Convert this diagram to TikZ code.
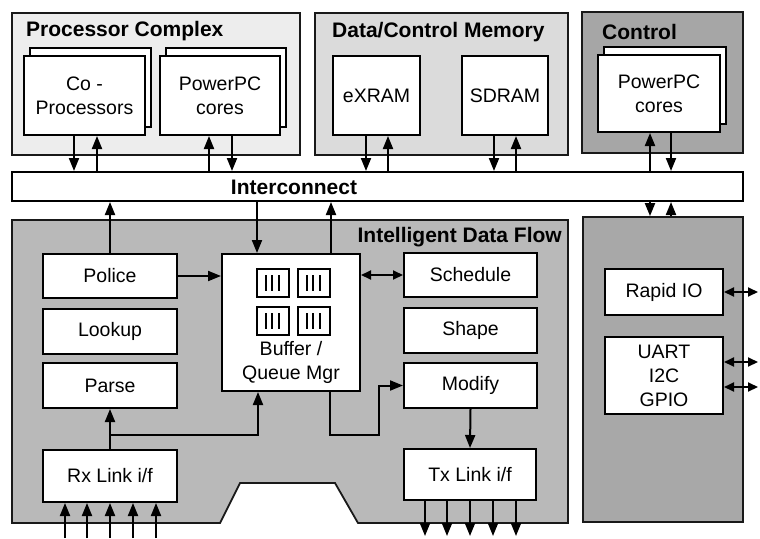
\documentclass[tikz,border=0pt]{standalone}
\usepackage{fontspec}
\setmainfont{Liberation Sans}
\usetikzlibrary{positioning, arrows.meta, shadows, calc}

\begin{document}
\begin{tikzpicture}[x=1pt, y=-1pt,
    group/.style={draw=black!90, line width=1.8pt},
    block/.style={draw, fill=white, line width=2pt, align=center, inner sep=0pt,
      font=\fontsize{19.5}{24}\selectfont},
    stacked/.style={block, copy shadow={shadow xshift=6pt, shadow yshift=8pt, draw, fill=white, line width=1.8pt}},
    title/.style={font=\fontsize{21}{24}\selectfont\bfseries, inner sep=0pt},
    qbox/.style={line width=1.6pt, fill=white},
    arr/.style={line width=2pt, -{Triangle[length=13pt,width=10pt]}},
    darr/.style={line width=2pt, {Triangle[length=10pt,width=9pt]}-{Triangle[length=10pt,width=9pt]}}]
        \path[use as bounding box, fill=white] (0,0) rectangle (760,538);

        % Processor complex
        \node[group, fill=gray!14, minimum width=288pt, minimum height=142pt] (pc) at (156,84) {};
        \node[title, anchor=west] (pctitle) at (26,31) {Processor Complex};
        \node[stacked, minimum width=121pt, minimum height=79pt] (cop) at (84.5,95.5) {Co -\\Processors};
        \node[stacked, minimum width=120pt, minimum height=79pt] (ppc) at (220,95.5) {PowerPC\\cores};

        % Data/control memory
        \node[group, fill=gray!28, minimum width=253pt, minimum height=142pt] (dcm) at (441.5,84) {};
        \node[title, anchor=west] (dcmtitle) at (332,32) {Data/Control Memory};
        \node[block, minimum width=87pt, minimum height=79pt] (exram) at (376.5,95.5) {eXRAM};
        \node[block, minimum width=86pt, minimum height=79pt] (sdram) at (505,95.5) {SDRAM};

        % Control
        \node[group, fill=gray!70, minimum width=161pt, minimum height=141pt] (ctl) at (662.5,82.5) {};
        \node[title, anchor=west] (ctltitle) at (602,32) {Control};
        \node[stacked, minimum width=122pt, minimum height=77pt] (cppc) at (659,93.5) {PowerPC\\cores};

        % Interconnect
        \node[block, minimum width=731pt, minimum height=29pt] (bus) at (377.5,186.5) {};
        \node[title] (bustitle) at (294,187) {Interconnect};

        % Intelligent data flow
        \draw[group, fill=gray!55] (12,220) -- (568,220) -- (568,523) -- (358,523) -- (335,483)
            -- (240,483) -- (220,523) -- (12,523) -- cycle;
        \node[title, anchor=east] (idftitle) at (562,237) {Intelligent Data Flow};
        \node[block, minimum width=134pt, minimum height=44pt] (police) at (110,276) {Police};
        \node[block, minimum width=134pt, minimum height=45pt] (lookup) at (110,331.5) {Lookup};
        \node[block, minimum width=134pt, minimum height=45pt] (parse) at (110,385.5) {Parse};
        \node[block, minimum width=134pt, minimum height=52pt] (rx) at (110,476) {Rx Link i/f};
        \node[block, minimum width=138pt, minimum height=137pt] (buf) at (291,322.5) {};
        \node[block, draw=none, fill=none] (buftext) at (291,362) {Buffer /\\Queue Mgr};
        \foreach \qx in {257,298} {
          \foreach \qy in {269,307} {
            \draw[qbox] (\qx,\qy) rectangle ++(32,28);
            \foreach \lx in {9,15,22} \draw[line width=1.2pt] (\qx+\lx,\qy+6) -- ++(0,16);
          }
        }
        \node[block, minimum width=133pt, minimum height=44pt] (sched) at (470.5,275) {Schedule};
        \node[block, minimum width=133pt, minimum height=45pt] (shape) at (470.5,330.5) {Shape};
        \node[block, minimum width=133pt, minimum height=45pt] (modify) at (470.5,385.5) {Modify};
        \node[block, minimum width=132pt, minimum height=51pt] (tx) at (470,474.5) {Tx Link i/f};

        % IO
        \node[group, fill=gray!68, minimum width=160pt, minimum height=305pt] (io) at (663,369.5) {};
        \node[block, minimum width=118pt, minimum height=46pt] (rapid) at (664,292) {Rapid IO};
        \node[block, minimum width=118pt, minimum height=77pt] (uart) at (664,375.5) {UART\\I2C\\GPIO};

        % Bus arrows
        \draw[arr] (cop.south -| 74,0) -- (bus.north -| 74,0);
        \draw[arr] (bus.north -| 97,0) -- (cop.south -| 97,0);
        \draw[arr] (bus.north -| 209,0) -- (ppc.south -| 209,0);
        \draw[arr] (ppc.south -| 232,0) -- (bus.north -| 232,0);
        \draw[arr] (exram.south -| 366,0) -- (bus.north -| 366,0);
        \draw[arr] (bus.north -| 388,0) -- (exram.south -| 388,0);
        \draw[arr] (sdram.south -| 494,0) -- (bus.north -| 494,0);
        \draw[arr] (bus.north -| 516,0) -- (sdram.south -| 516,0);
        \draw[arr] (bus.north -| 650,0) -- (cppc.south -| 650,0);
        \draw[arr] (cppc.south -| 671,0) -- (bus.north -| 671,0);
        \draw[arr] (bus.south -| 650,0) -- (io.north -| 650,0);
        \draw[arr] (io.north -| 671,0) -- (bus.south -| 671,0);
        \draw[arr] (police.north) -- (police.north |- bus.south);
        \draw[arr] (bus.south -| 257,0) -- (buf.north -| 257,0);
        \draw[arr] (buf.north -| 331,0) -- (bus.south -| 331,0);

        % Data flow arrows
        \draw[arr] (police.east) -- (police.east -| buf.west);
        \draw[darr] (buf.east |- sched.west) -- (sched.west);
        \draw[arr] (rx.north) -- (parse.south);
        \draw[arr] (rx.north |- 0,435) -| (buf.south -| 258,0);
        \draw[arr] (buf.south -| 330,0) |- (379,435) |- (modify.west);
        \draw[arr] (modify.south) -- (tx.north);
        \foreach \ix in {65,87,110,133,156}
          \draw[arr] (\ix,538) -- (rx.south -| \ix,0);
        \foreach \ox in {425,447,470,493,516}
          \draw[arr] (tx.south -| \ox,0) -- (\ox,536);

        % External IO
        \draw[darr] (rapid.east) -- (rapid.east -| 758,0);
        \draw[darr] (uart.east |- 0,362) -- (758,362);
        \draw[darr] (uart.east |- 0,387) -- (758,387);
      \end{tikzpicture}
\end{document}
